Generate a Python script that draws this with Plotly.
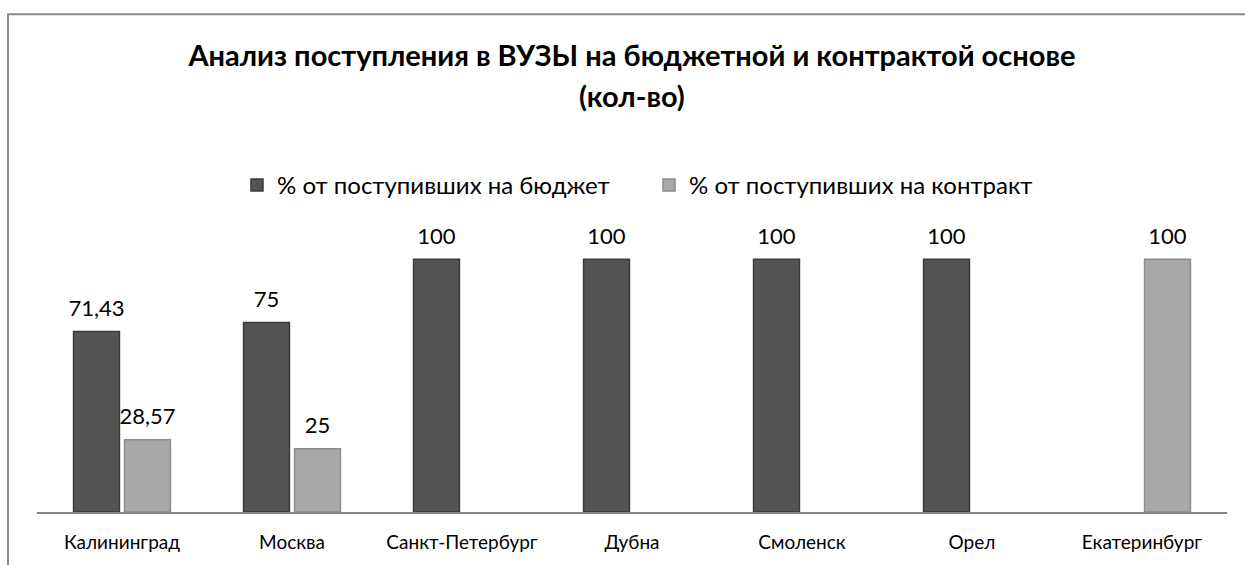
"""
Анализ поступления в ВУЗЫ: бюджет / контракт
"""
import plotly.graph_objects as go

# Данные
cities = ["Калининград", "Москва", "Санкт-Петербург", "Дубна",
          "Смоленск", "Орел", "Екатеринбург"]
budget = [71.43, 75, 100, 100, 100, 100, None]
contract = [28.57, 25, None, None, None, None, 100]

series_names = ["% от поступивших на бюджет", "% от поступивших на контракт"]

FONT = "Lato"
W, H = 1245, 565
L, R, T, B = 37, 18, 210, 48


def fmt(values):
    """Подписи с запятой как десятичным разделителем (+ пустая строка как отступ)"""
    out = []
    for v in values:
        if v is None:
            out.append("")
        else:
            s = f"{v:g}".replace(".", ",")
            out.append(f"<span style='font-size:22px'>{s}</span><br> ")
    return out


fig = go.Figure()

fig.add_trace(go.Bar(
    x=cities, y=budget,
    name=series_names[0],
    text=fmt(budget),
    textposition="outside",
    constraintext="none",
    textfont=dict(size=8, color="#000000", family=FONT),
    marker=dict(color="#545454", line=dict(color="#3a3a3a", width=1.5)),
    cliponaxis=False,
))

fig.add_trace(go.Bar(
    x=cities, y=contract,
    name=series_names[1],
    text=fmt(contract),
    textposition="outside",
    constraintext="none",
    textfont=dict(size=8, color="#000000", family=FONT),
    marker=dict(color="#a8a8a8", line=dict(color="#8c8c8c", width=1.5)),
    cliponaxis=False,
))

# Рамка вокруг диаграммы (правый и нижний край за пределами кадра)
pw, ph = W - L - R, H - T - B
fig.add_shape(
    type="rect", xref="paper", yref="paper",
    x0=(8 - L) / pw, x1=(W + 10 - L) / pw,
    y0=-(B + 10) / ph, y1=(H - B - 11) / ph,
    line=dict(color="#8a8a8a", width=2),
    layer="below",
)

fig.add_annotation(
    text="<b>(кол-во)</b>", xref="paper", yref="paper",
    x=(632 - L) / pw, y=(H - B - 94) / ph,
    showarrow=False, font=dict(size=29, family=FONT, color="#000000"),
    xanchor="center", yanchor="middle",
)

fig.update_layout(
    width=W, height=H,
    margin=dict(l=L, r=R, t=T, b=B),
    paper_bgcolor="white",
    plot_bgcolor="white",
    barmode="group",
    bargap=0.4,
    bargroupgap=0.1,
    font=dict(family=FONT, color="#000000"),
    title=dict(
        text="<b>Анализ поступления в ВУЗЫ на бюджетной и контрактой основе</b>",
        x=632 / W, xanchor="center",
        y=1 - 56 / H, yanchor="middle",
        font=dict(size=29, family=FONT, color="#000000"),
    ),
    legend=dict(
        orientation="h",
        x=(649 - L) / pw, xanchor="center",
        y=(H - B - 185) / ph, yanchor="middle",
        font=dict(size=24, family=FONT, color="#000000"),
        itemwidth=30,
        entrywidth=367,
    ),
    showlegend=True,
    xaxis=dict(
        showline=True, linecolor="#868686", linewidth=1.5,
        ticks="", showgrid=False,
        tickfont=dict(size=19, family=FONT, color="#000000"),
        ticklabelstandoff=12,
    ),
    yaxis=dict(
        range=[0, 100 * ph / 257],
        visible=False, showgrid=False, zeroline=False,
    ),
)

# убираем отступ body, чтобы координаты совпадали со страницей
fig.write_html("out.html", config={"displayModeBar": False},
               post_script="document.body.style.margin='0';")
